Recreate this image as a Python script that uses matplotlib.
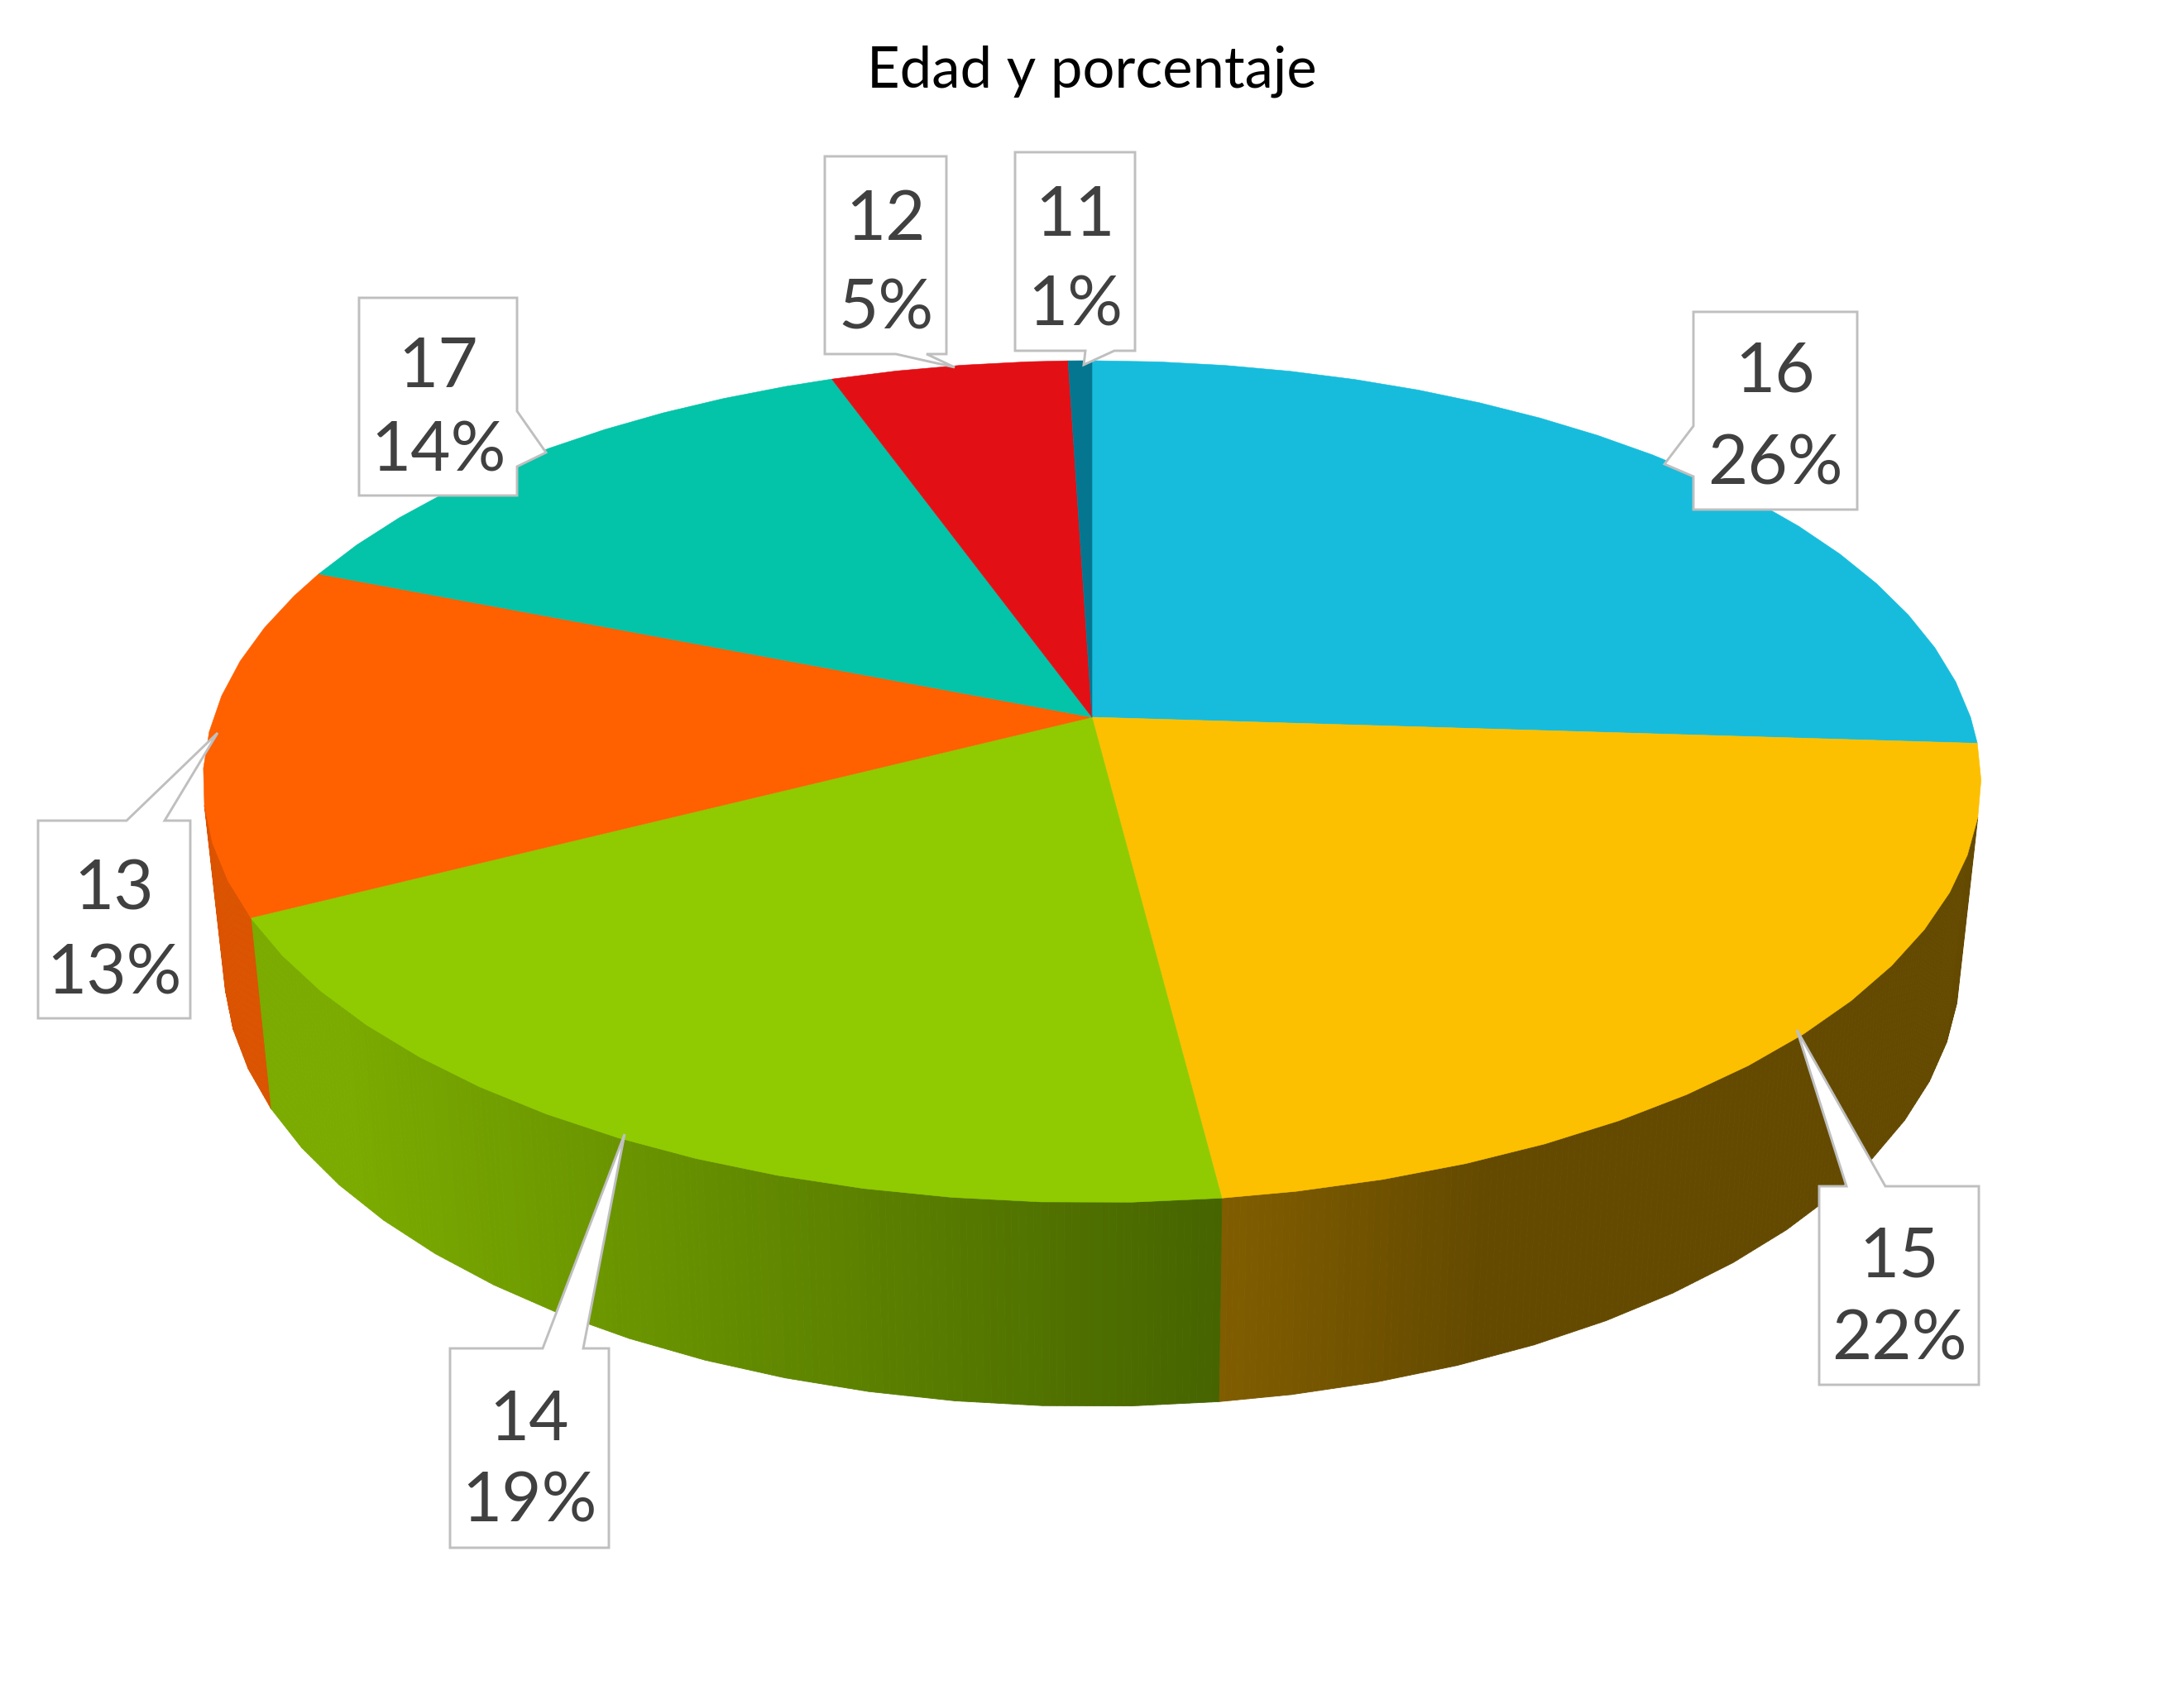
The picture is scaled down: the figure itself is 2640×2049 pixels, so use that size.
import numpy as np
import matplotlib
matplotlib.use("Agg")
import matplotlib.pyplot as plt
from matplotlib.patches import Polygon
from matplotlib.collections import PolyCollection
from matplotlib.colors import to_rgb

# ---- data -------------------------------------------------------------
ages = ["16", "15", "14", "13", "17", "12", "11"]
shares = [26.0, 22.0, 19.5, 13.5, 13.5, 5.0, 0.5]
share_labels = ["26%", "22%", "19%", "13%", "14%", "5%", "1%"]
top_colors = ["#17BCDC", "#FCC000", "#8FCB00", "#FF6000", "#03C3A8", "#E21015", "#047690"]
title = "Edad y porcentaje"

# ---- layout / projection (pixel space of the figure) --------------------
W, H = 2640, 2049
CX, K = 1320.0, 0.153
TOP = dict(B=1062.0, A=497.0, cy=867.0)
BOT = dict(B=1037.0, A=521.0, cy=1085.0)
STEP = 5.0
FONT = ["Lato", "DejaVu Sans"]
TXT = "#404040"
EDGE = "#BFBFBF"


def project(theta, ring):
    t = np.radians(theta)
    d = 1 + K * np.cos(t)
    return np.column_stack([CX + ring["B"] * np.sin(t) / d,
                            ring["cy"] - ring["A"] * np.cos(t) / d])


def wall_color(slice_idx, x):
    if slice_idx == 1:   # brown
        f = np.clip((x - 1477) / (1790 - 1477), 0, 1)
        a, b = to_rgb("#805D00"), to_rgb("#644A00")
    elif slice_idx == 2:  # green
        f = np.clip((x - 420) / (1473 - 420), 0, 1)
        a, b = to_rgb("#7BAB00"), to_rgb("#466400")
    else:                 # orange
        f = 0.0
        a, b = to_rgb("#DB5300"), to_rgb("#DB5300")
    return tuple((1 - f) * np.array(a) + f * np.array(b))


fig = plt.figure(figsize=(W / 100, H / 100), dpi=100)
ax = fig.add_axes([0, 0, 1, 1])
ax.set_xlim(0, W)
ax.set_ylim(H, 0)
ax.axis("off")

edges = np.concatenate([[0], np.cumsum(shares)]) * 3.6

# side walls
for i in range(len(shares)):
    a0, a1 = edges[i], edges[i + 1]
    th = np.append(np.arange(a0, a1, STEP), a1)
    th = th[np.cos(np.radians(th)) < -0.18]
    if len(th) < 2:
        continue
    quads, cols = [], []
    for t0, t1 in zip(th[:-1], th[1:]):
        p_top = project(np.array([t0, t1]), TOP)
        p_bot = project(np.array([t0, t1]), BOT)
        n = 12
        for j in range(n):
            u0, u1 = j / n, (j + 1) / n
            q = [p_top[0] + (p_top[1] - p_top[0]) * u0,
                 p_top[0] + (p_top[1] - p_top[0]) * u1,
                 p_bot[0] + (p_bot[1] - p_bot[0]) * u1,
                 p_bot[0] + (p_bot[1] - p_bot[0]) * u0]
            quads.append(q)
            cols.append(wall_color(i, np.mean([v[0] for v in q])))
    ax.add_collection(PolyCollection(quads, facecolors=cols, edgecolors=cols,
                                     linewidths=0.6, zorder=2))

# top slices
for i in range(len(shares)):
    a0, a1 = edges[i], edges[i + 1]
    th = np.append(np.arange(a0, a1, STEP), a1)
    rim = project(th, TOP)
    pts = np.vstack([[CX, TOP["cy"]], rim])
    ax.add_patch(Polygon(pts, closed=True, facecolor=top_colors[i],
                         edgecolor=top_colors[i], linewidth=0.4, zorder=3))

# callouts: outline of each box with its pointer, and first-row text offset
callouts = {
    "16": dict(box=(2047, 377, 2245, 616), ptr=[(2047, 515), (2012, 561), (2047, 576)], dy=0),
    "15": dict(box=(2199, 1434, 2392, 1674), ptr=[(2279, 1434), (2172, 1245), (2232, 1434)], dy=13),
    "14": dict(box=(544, 1630, 736, 1871), ptr=[(705, 1630), (755, 1371), (656, 1630)], dy=15),
    "13": dict(box=(46, 992, 230, 1231), ptr=[(199, 992), (263, 886), (153, 992)], dy=12),
    "17": dict(box=(434, 360, 625, 599), ptr=[(625, 497), (660, 547), (625, 564)], dy=12),
    "12": dict(box=(997, 189, 1144, 428), ptr=[(1120, 428), (1154, 444), (1083, 428)], dy=5),
    "11": dict(box=(1227, 184, 1372, 424), ptr=[(1347, 424), (1310, 441), (1312, 424)], dy=5),
}

for age, lab in zip(ages, share_labels):
    c = callouts[age]
    x0, y0, x1, y1 = c["box"]
    ptr = c["ptr"]
    if ptr[0][0] == x0:      # pointer on left side, going down
        pts = [(x0, y0), (x1, y0), (x1, y1), (x0, y1), ptr[2], ptr[1], ptr[0]]
    elif ptr[0][0] == x1:    # pointer on right side, going down
        pts = [(x0, y0), (x1, y0), ptr[0], ptr[1], ptr[2], (x1, y1), (x0, y1)]
    elif ptr[0][1] == y0:    # pointer on top, going right to left
        pts = [(x0, y0), ptr[2], ptr[1], ptr[0], (x1, y0), (x1, y1), (x0, y1)]
    else:                    # pointer at bottom, going right to left
        pts = [(x0, y0), (x1, y0), (x1, y1), ptr[0], ptr[1], ptr[2], (x0, y1)]
    ax.add_patch(Polygon(pts, closed=True, facecolor="white", edgecolor=EDGE,
                         linewidth=2.1, joinstyle="miter", zorder=5))
    xm = (x0 + x1) / 2
    ax.text(xm, y0 + 73 + c["dy"], age, ha="center", va="center", fontsize=60,
            family=FONT, color=TXT, zorder=6)
    ax.text(xm, y0 + 186, lab, ha="center", va="center", fontsize=60,
            family=FONT, color=TXT, zorder=6)

ax.text(1320, 86, title, ha="center", va="center", fontsize=49.5,
        family=FONT, color="black", zorder=6)

fig.savefig("out.png", dpi=100, facecolor="white")
